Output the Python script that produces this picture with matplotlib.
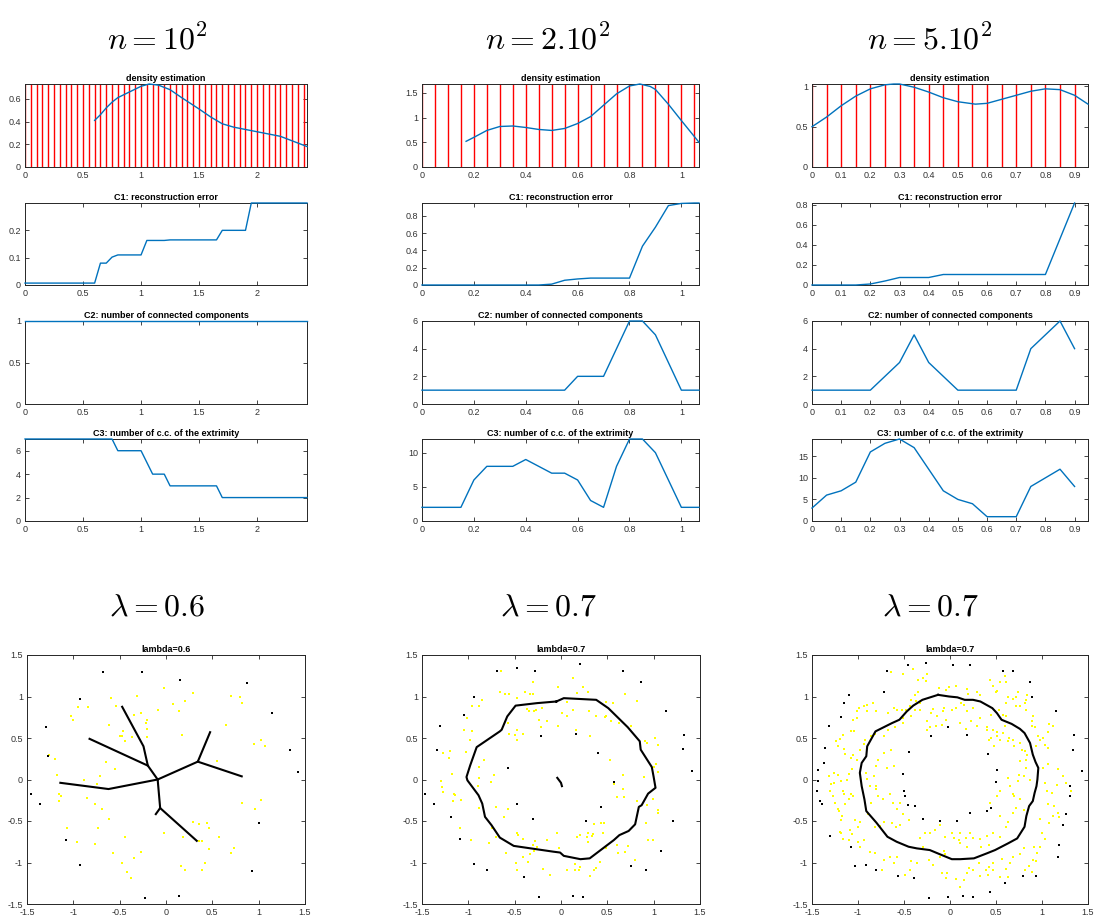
import numpy as np
import matplotlib
matplotlib.use('Agg')
import matplotlib.pyplot as plt
from matplotlib.ticker import FuncFormatter

plt.rcParams['font.family'] = ['Liberation Sans', 'DejaVu Sans']
plt.rcParams['mathtext.fontset'] = 'cm'
plt.rcParams['axes.unicode_minus'] = False

# ---------------- data: top columns (n=100, 200, 500) ----------------
xmax = [2.43, 1.068, 0.946]
lam = [np.round(np.arange(0, 2.41, 0.05), 2),
       np.round(np.arange(0, 1.051, 0.05), 2),
       np.round(np.arange(0, 0.91, 0.05), 2)]

dens_x1 = [0.6, 0.65, 0.7, 0.75, 0.8, 0.9, 1.0, 1.07, 1.15, 1.25, 1.35, 1.5, 1.6, 1.7, 1.8, 2.0, 2.2, 2.43]
dens_y1 = [0.41, 0.46, 0.52, 0.57, 0.61, 0.66, 0.71, 0.73, 0.72, 0.68, 0.61, 0.51, 0.44, 0.38, 0.35, 0.31, 0.27, 0.18]
dens_x2 = [0.17, 0.2, 0.25, 0.3, 0.35, 0.4, 0.45, 0.5, 0.55, 0.6, 0.65, 0.7, 0.75, 0.8, 0.84, 0.88, 0.9, 0.95, 1.0, 1.068]
dens_y2 = [0.52, 0.6, 0.74, 0.82, 0.83, 0.8, 0.76, 0.74, 0.78, 0.88, 1.02, 1.25, 1.48, 1.64, 1.68, 1.63, 1.57, 1.27, 0.94, 0.5]
dens_x3 = [0, 0.05, 0.1, 0.15, 0.2, 0.25, 0.28, 0.3, 0.35, 0.4, 0.45, 0.5, 0.56, 0.6, 0.65, 0.7, 0.75, 0.8, 0.85, 0.9, 0.946]
dens_y3 = [0.5, 0.62, 0.76, 0.88, 0.97, 1.02, 1.03, 1.03, 0.99, 0.93, 0.86, 0.81, 0.78, 0.79, 0.84, 0.89, 0.94, 0.97, 0.96, 0.89, 0.78]

c1_x1 = [0, 0.6, 0.65, 0.7, 0.75, 0.8, 1.0, 1.05, 1.2, 1.25, 1.65, 1.7, 1.9, 1.95, 2.43]
c1_y1 = [0.007, 0.007, 0.08, 0.08, 0.102, 0.11, 0.11, 0.163, 0.163, 0.165, 0.165, 0.2, 0.2, 0.3, 0.3]
c1_x2 = [0, 0.45, 0.5, 0.55, 0.6, 0.65, 0.8, 0.85, 0.9, 0.95, 1.0, 1.05, 1.068]
c1_y2 = [0, 0, 0.01, 0.055, 0.07, 0.08, 0.08, 0.45, 0.67, 0.92, 0.945, 0.95, 0.95]
c1_x3 = [0, 0.15, 0.2, 0.25, 0.3, 0.4, 0.45, 0.8, 0.9]
c1_y3 = [0, 0, 0.01, 0.04, 0.075, 0.075, 0.105, 0.105, 0.82]

c2_x1 = [0, 2.43]
c2_y1 = [1, 1]
c2_x2 = [0, 0.55, 0.6, 0.7, 0.75, 0.8, 0.85, 0.9, 0.95, 1.0, 1.068]
c2_y2 = [1, 1, 2, 2, 4, 6, 6, 5, 3, 1, 1]
c2_x3 = [0, 0.2, 0.25, 0.3, 0.35, 0.4, 0.45, 0.5, 0.7, 0.75, 0.8, 0.85, 0.9]
c2_y3 = [1, 1, 2, 3, 5, 3, 2, 1, 1, 4, 5, 6, 4]

c3_x1 = [0, 0.75, 0.8, 1.0, 1.1, 1.2, 1.25, 1.65, 1.7, 2.43]
c3_y1 = [7, 7, 6, 6, 4, 4, 3, 3, 2, 2]
c3_x2 = [0, 0.15, 0.2, 0.25, 0.35, 0.4, 0.45, 0.5, 0.55, 0.6, 0.65, 0.7, 0.75, 0.8, 0.85, 0.9, 0.95, 1.0, 1.068]
c3_y2 = [2, 2, 6, 8, 8, 9, 8, 7, 7, 6, 3, 2, 8, 12, 12, 10, 6, 2, 2]
c3_x3 = [0, 0.05, 0.1, 0.15, 0.2, 0.25, 0.3, 0.35, 0.4, 0.45, 0.5, 0.55, 0.6, 0.7, 0.75, 0.8, 0.85, 0.9]
c3_y3 = [3, 6, 7, 9, 16, 18, 19, 17, 12, 7, 5, 4, 1, 1, 8, 10, 12, 8]

# ---------------- data: bottom scatter panels ----------------
skel1 = [
    [(-0.09, 0.0), (-0.196, 0.167), (-0.243, 0.40), (-0.473, 0.876)],
    [(-0.196, 0.167), (-0.825, 0.49)],
    [(-0.09, 0.0), (-0.62, -0.115), (-1.14, -0.04)],
    [(-0.09, 0.0), (0.343, 0.215), (0.476, 0.57)],
    [(0.343, 0.215), (0.817, 0.038)],
    [(-0.09, 0.0), (-0.063, -0.344), (-0.11, -0.417)],
    [(-0.063, -0.344), (0.332, -0.739)],
]
yel1 = [(-0.02, 1.10), (-0.31, 1.01), (0.29, 1.04), (0.21, 0.95), (0.08, 0.91), (-0.09, 0.84), (0.14, 0.82),
        (-0.20, 0.72), (-0.34, 0.78), (-0.27, 0.80), (-0.22, 0.68), (-0.20, 0.61), (-0.21, 0.51), (-0.46, 0.59),
        (-0.50, 0.53), (-0.47, 0.52), (-0.44, 0.46), (-0.37, 0.51), (-0.54, 0.89), (-0.59, 0.98), (-1.03, 0.77),
        (-1.00, 0.72), (-0.95, 0.87), (-0.84, 0.87), (-0.62, 0.66), (0.17, 0.54), (0.80, 1.00), (0.70, 1.01),
        (0.82, 0.92), (0.65, 0.66), (1.02, 0.48), (0.95, 0.43), (1.07, 0.40), (0.55, 0.22), (-1.26, 0.30),
        (-1.20, 0.25), (-1.18, 0.06), (-0.88, 0.00), (-0.71, 0.04), (-0.75, -0.05), (-0.65, 0.21), (-0.55, 0.13),
        (-1.15, -0.18), (-1.13, -0.20), (-1.15, -0.26), (-0.85, -0.22), (-0.77, -0.30), (-0.69, -0.35),
        (-0.61, -0.47), (-0.73, -0.59), (-1.07, -0.59), (-0.96, -0.75), (-0.77, -0.78), (-0.57, -0.89),
        (-0.44, -0.69), (-0.47, -1.01), (-0.42, -1.12), (-0.38, -1.19), (-0.35, -0.95), (-0.27, -0.87),
        (-0.02, -0.65), (0.18, -0.69), (0.29, -0.51), (0.36, -0.54), (0.44, -0.53), (0.46, -0.59), (0.36, -0.74),
        (0.39, -0.74), (0.46, -0.84), (0.57, -0.69), (0.42, -1.00), (0.39, -1.09), (0.16, -1.04), (0.21, -1.09),
        (0.70, -0.89), (0.73, -0.82), (0.82, -0.28), (1.02, -0.25), (0.96, -0.35)]
blk1 = [(-0.68, 1.29), (-0.26, 1.29), (0.15, 1.20), (0.87, 1.16), (-0.93, 0.97), (-1.30, 0.63), (-1.27, 0.28),
        (1.14, 0.80), (1.34, 0.35), (1.42, 0.09), (-1.46, -0.17), (-1.36, -0.30), (-1.08, -0.73), (-0.93, -1.03),
        (1.00, -0.53), (0.93, -1.10), (-0.23, -1.43), (0.14, -1.40)]

skel2 = [
    [(-0.05, 0.94), (0.03, 0.98), (0.38, 0.96), (0.51, 0.86), (0.72, 0.63), (0.85, 0.46), (0.86, 0.36),
     (0.98, 0.15), (1.00, 0.03), (1.02, -0.10), (0.94, -0.17), (0.87, -0.31), (0.84, -0.33), (0.80, -0.54),
     (0.73, -0.62), (0.63, -0.67), (0.57, -0.73), (0.31, -0.95), (0.21, -0.96), (0.03, -0.92), (-0.01, -0.88),
     (-0.08, -0.87), (-0.51, -0.80), (-0.66, -0.70), (-0.75, -0.55), (-0.82, -0.45), (-0.85, -0.29),
     (-0.89, -0.19), (-0.95, -0.10), (-1.01, -0.01), (-1.02, 0.03), (-0.98, 0.17), (-0.91, 0.39),
     (-0.66, 0.58), (-0.64, 0.60), (-0.58, 0.76), (-0.49, 0.89), (-0.26, 0.92), (-0.05, 0.94)],
    [(-0.04, 0.02), (-0.02, -0.01), (0.0, -0.04), (0.01, -0.08)],
]
yel2 = [(-0.65, 1.31), (0.13, 1.22), (0.24, 1.12), (0.29, 1.06), (0.17, 1.04), (-0.03, 1.12), (-0.30, 1.17),
        (0.49, 0.93), (0.56, 0.92), (0.69, 1.03), (0.82, 0.94), (-0.66, 1.05), (-0.60, 1.03), (-0.56, 1.03),
        (-0.48, 0.98), (-0.39, 1.05), (-0.33, 1.03), (-0.30, 1.03), (-0.85, 0.96), (-0.88, 0.89), (-0.96, 0.88),
        (-1.01, 0.74), (-1.05, 0.60), (-0.96, 0.59), (-0.98, 0.48), (-1.03, 0.33), (-1.20, 0.34), (-1.27, 0.32),
        (-1.21, 0.26), (-1.30, -0.02), (-1.28, -0.09), (-1.27, -0.15), (-1.18, 0.07), (-1.16, -0.17),
        (-1.14, -0.19), (-1.17, -0.26), (-1.08, -0.25), (-1.09, -0.59), (-0.97, -0.73), (-0.78, -0.76),
        (-0.70, -0.69), (-0.59, -0.88), (-0.49, -1.00), (-0.47, -1.09), (-0.41, -0.93), (-0.33, -0.90),
        (-0.36, -0.99), (-0.29, -0.86), (-0.19, -1.08), (-0.12, -1.15), (-0.26, -0.81), (-0.15, -0.73),
        (-0.04, -0.65), (-0.02, -0.83), (0.06, -1.09), (0.15, -1.02), (0.15, -1.09), (0.19, -1.09), (0.21, -1.05),
        (0.31, -1.16), (0.38, -1.07), (0.36, -1.09), (0.42, -0.99), (0.49, -0.82), (0.60, -0.79), (0.62, -0.88),
        (0.69, -0.87), (0.72, -0.80), (0.80, -0.97), (0.94, -0.73), (0.99, -0.73), (0.92, -0.52), (1.05, -0.37),
        (1.05, -0.40), (0.99, -0.23), (0.93, -0.31), (0.82, -0.26), (0.68, -0.21), (0.67, -0.11), (0.90, 0.03),
        (1.05, 0.09), (1.02, 0.19), (1.00, 0.15), (0.91, 0.46), (0.93, 0.44), (1.05, 0.42), (1.01, 0.50),
        (0.75, 0.64), (0.63, 0.68), (0.49, 0.76), (0.67, 0.05), (0.57, -0.05), (0.60, -0.21), (0.46, -0.53),
        (0.43, -0.52), (0.36, -0.54), (0.35, -0.66), (0.33, -0.68), (0.45, -0.65), (0.29, -0.65), (0.28, -0.69),
        (0.21, -0.67), (0.17, -0.69), (0.29, -0.75), (-0.27, 0.84), (-0.37, 0.85), (-0.34, 0.83), (-0.29, 0.82),
        (-0.21, 0.86), (-0.15, 0.71), (-0.24, 0.72), (-0.22, 0.63), (-0.57, 0.68), (-0.47, 0.60), (-0.41, 0.55),
        (-0.47, 0.48), (-0.50, 0.54), (-0.56, 0.55), (-0.03, 0.64), (0.01, 0.80), (0.06, 0.76), (0.13, 0.84),
        (0.16, 0.60), (0.31, 0.52), (0.53, 0.24), (0.54, 0.70), (0.48, 0.75), (0.38, 0.77), (0.30, 0.83),
        (0.06, 0.93), (-0.83, 0.23), (-0.88, 0.15), (-0.89, 0.02), (-0.72, 0.05), (-0.76, -0.03), (-0.90, -0.08),
        (-0.88, -0.34), (-0.70, -0.33), (-0.62, -0.45), (-0.57, -0.35), (-0.48, -0.65), (-0.46, -0.67),
        (-0.41, -0.72), (-0.30, -0.79), (-0.28, -0.74), (-0.75, -0.59)]
blk2 = [(-0.69, 1.31), (-0.48, 1.34), (-0.28, 1.31), (0.21, 1.39), (0.67, 1.31), (0.86, 1.18), (1.13, 0.83),
        (-0.94, 0.99), (-1.05, 0.78), (-1.31, 0.65), (-1.34, 0.36), (-0.57, 0.14), (-0.22, 0.52), (0.16, 0.55),
        (0.40, 0.32), (0.57, -0.03), (0.43, -0.33), (1.33, 0.54), (1.32, 0.37), (1.41, 0.10), (1.21, -0.50),
        (1.08, -0.86), (0.92, -1.09), (0.76, -1.04), (0.27, -0.50), (-0.30, -0.47), (-0.47, -0.30),
        (-1.19, -0.45), (-1.37, -0.30), (-1.47, -0.17), (-1.09, -0.72), (-0.94, -1.02), (-0.80, -1.09),
        (-0.40, -1.18), (-0.24, -1.42), (0.13, -1.40), (0.24, -1.41)]

skel3 = [
    [(-0.13, 1.02), (-0.01, 1.00), (0.08, 0.99), (0.16, 0.96), (0.25, 0.96), (0.33, 0.94), (0.46, 0.86),
     (0.51, 0.80), (0.56, 0.72), (0.67, 0.67), (0.76, 0.61), (0.81, 0.56), (0.87, 0.44), (0.90, 0.30),
     (0.93, 0.21), (0.96, 0.14), (0.95, 0.00), (0.94, -0.08), (0.92, -0.16), (0.90, -0.26), (0.86, -0.32),
     (0.83, -0.44), (0.81, -0.57), (0.73, -0.71), (0.63, -0.77), (0.49, -0.85), (0.40, -0.89), (0.26, -0.95),
     (0.11, -0.96), (0.02, -0.96), (-0.09, -0.91), (-0.22, -0.85), (-0.36, -0.83), (-0.45, -0.81),
     (-0.58, -0.75), (-0.68, -0.69), (-0.80, -0.52), (-0.91, -0.38), (-0.93, -0.24), (-0.96, -0.08),
     (-0.98, 0.08), (-0.96, 0.20), (-0.91, 0.28), (-0.90, 0.40), (-0.85, 0.50), (-0.81, 0.58), (-0.72, 0.63),
     (-0.63, 0.68), (-0.55, 0.72), (-0.47, 0.82), (-0.40, 0.89), (-0.30, 0.96), (-0.13, 1.02)],
]
yel3 = [(-0.64, 1.30), (-0.51, 1.27), (-0.40, 1.33), (-0.29, 1.22), (-0.25, 1.27), (-0.35, 1.20), (-0.26, 1.19),
        (-0.12, 1.10), (-0.04, 1.08), (-0.01, 1.11), (0.07, 1.13), (0.18, 1.09), (0.20, 1.03), (0.29, 1.05),
        (0.33, 1.02), (0.43, 1.20), (0.47, 1.13), (0.51, 1.07), (0.50, 1.05), (0.54, 1.17), (0.60, 1.25),
        (0.61, 1.17), (0.74, 1.05), (0.72, 1.00), (0.83, 0.96), (0.81, 0.92), (0.84, 1.02), (0.72, 0.88),
        (0.76, 0.88), (0.63, 1.00), (0.69, 0.97), (0.61, 0.92), (0.12, 0.92), (0.15, 0.90), (0.25, 0.86),
        (0.18, 0.82), (0.07, 0.86), (0.02, 0.84), (-0.06, 0.86), (-0.08, 0.82), (-0.18, 0.85), (-0.21, 0.80),
        (-0.14, 0.77), (-0.25, 0.70), (-0.22, 0.63), (-0.15, 0.65), (-0.09, 0.66), (-0.04, 0.72), (-0.25, 0.60),
        (-0.38, 1.02), (-0.35, 1.05), (-0.37, 0.94), (-0.33, 0.92), (-0.42, 0.96), (-0.44, 0.88), (-0.48, 0.84),
        (-0.52, 0.84), (-0.58, 0.84), (-0.61, 0.86), (-0.67, 0.80), (-0.80, 0.82), (-0.84, 0.92), (-0.90, 0.82),
        (-0.90, 0.90), (-0.94, 0.88), (-0.99, 0.86), (-1.01, 0.82), (-1.01, 0.74), (-1.05, 0.72), (-1.04, 0.58),
        (-1.08, 0.58), (-1.16, 0.54), (-1.20, 0.49), (-1.24, 0.46), (-1.22, 0.40), (-1.15, 0.37), (-1.14, 0.31),
        (-1.05, 0.30), (-0.98, 0.36), (-0.94, 0.43), (-0.92, 0.48), (-0.86, 0.53), (-0.81, 0.55), (-0.72, 0.52),
        (-0.67, 0.60), (-0.60, 0.63), (-0.51, 0.68), (-0.51, 0.74), (-0.42, 0.76), (-0.38, 0.84), (-0.33, 0.84),
        (0.29, 0.64), (0.40, 0.63), (0.45, 0.78), (0.53, 0.84), (0.58, 0.78), (0.61, 0.76), (0.60, 0.64),
        (0.58, 0.56), (0.64, 0.50), (0.63, 0.46), (0.69, 0.48), (0.70, 0.40), (0.76, 0.44), (0.78, 0.36),
        (0.81, 0.34), (0.84, 0.30), (0.94, 0.40), (0.98, 0.47), (1.01, 0.50), (1.03, 0.41), (1.06, 0.38),
        (1.08, 0.67), (1.12, 0.64), (1.07, 0.57), (0.92, 0.63), (0.89, 0.65), (0.96, 0.52), (0.90, 0.76),
        (0.89, 0.71), (0.83, 0.84), (0.51, 0.57), (0.51, 0.52), (0.54, 0.48), (0.45, 0.50), (0.48, 0.40),
        (0.83, 0.24), (0.76, 0.22), (0.75, 0.06), (0.83, 0.14), (0.80, 0.04), (0.87, 0.00), (1.01, 0.14),
        (1.07, 0.19), (1.17, 0.13), (1.23, 0.04), (1.26, -0.04), (1.32, -0.14), (1.30, -0.20), (1.16, -0.07),
        (1.11, -0.16), (1.05, -0.14), (1.03, -0.04), (1.07, -0.29), (1.13, -0.32), (1.17, -0.40), (1.19, -0.45),
        (1.12, -0.44), (1.08, -0.53), (0.98, -0.48), (1.00, -0.64), (1.03, -0.72), (0.98, -0.81), (0.95, -0.89),
        (0.94, -0.98), (0.90, -0.97), (0.86, -1.04), (0.81, -1.09), (0.89, -1.11), (0.91, -0.81), (0.80, -0.82),
        (0.76, -0.90), (0.69, -0.93), (0.65, -1.00), (0.61, -1.08), (0.63, -1.17), (0.54, -1.18), (0.57, -0.96),
        (0.47, -1.00), (0.47, -1.09), (0.42, -1.05), (0.41, -1.15), (0.39, -1.09), (0.33, -1.16), (0.31, -1.01),
        (0.25, -1.09), (0.21, -1.07), (0.18, -1.13), (0.11, -1.29), (0.15, -1.21), (0.07, -1.20), (-0.03, -1.13),
        (-0.04, -1.19), (-0.09, -1.13), (-0.05, -0.90), (-0.11, -0.93), (-0.18, -1.03), (-0.23, -0.97),
        (-0.36, -1.00), (-0.42, -0.98), (-0.44, -1.09), (-0.49, -1.15), (-0.61, -1.00), (-0.58, -0.93),
        (-0.65, -0.93), (-0.72, -0.97), (-0.74, -1.09), (-0.81, -0.89), (-0.87, -0.87), (-0.93, -0.73),
        (-1.00, -0.75), (-0.98, -0.81), (-1.07, -0.66), (-1.09, -0.61), (-1.10, -0.73), (-1.16, -0.72),
        (-1.19, -0.65), (-1.20, -0.63), (-1.19, -0.49), (-1.17, -0.44), (-1.21, -0.38), (-1.22, -0.36),
        (-1.25, -0.28), (-1.14, -0.30), (-1.10, -0.24), (-1.05, -0.20), (-1.08, -0.18), (-1.15, -0.18),
        (-1.16, -0.14), (-1.27, -0.20), (-1.30, -0.14), (-1.29, -0.05), (-1.32, 0.04), (-1.26, 0.08),
        (-1.22, 0.05), (-1.26, -0.04), (-1.19, -0.02), (-1.12, -0.01), (-1.10, 0.07), (-1.06, 0.13),
        (-1.01, 0.24), (-1.08, 0.26), (-0.91, 0.08), (-0.90, 0.01), (-0.87, -0.08), (-0.80, -0.08),
        (-0.80, -0.12), (-0.78, -0.20), (-0.73, -0.24), (-0.65, -0.18), (-0.62, -0.28), (-0.54, -0.28),
        (-0.58, -0.36), (-0.51, -0.41), (-0.45, -0.49), (-0.54, -0.55), (-0.59, -0.57), (-0.63, -0.52),
        (-0.72, -0.51), (-0.76, -0.56), (-0.81, -0.57), (-0.89, -0.42), (-0.98, -0.51), (-1.00, -0.57),
        (-1.03, -0.49), (-0.86, -0.28), (-0.80, 0.16), (-0.78, 0.24), (-0.72, 0.32), (-0.64, 0.36),
        (-0.69, 0.14), (-0.61, 0.16), (-0.83, 0.04), (0.11, -0.77), (0.10, -0.73), (0.17, -0.71), (0.22, -0.65),
        (0.25, -0.71), (0.33, -0.72), (0.40, -0.68), (0.47, -0.65), (0.42, -0.79), (0.34, -0.81), (0.54, -0.69),
        (0.61, -0.57), (0.63, -0.51), (0.69, -0.40), (0.72, -0.34), (0.80, -0.37), (0.76, -0.24), (0.70, -0.20),
        (0.69, -0.17), (0.74, -0.02), (0.65, -0.08), (0.63, 0.02), (0.54, -0.14), (0.51, -0.20), (0.43, -0.28),
        (0.54, -0.44), (-0.11, -0.55), (-0.16, -0.61), (-0.22, -0.65), (-0.27, -0.65), (-0.33, -0.71),
        (-0.29, -0.81), (-0.05, -0.69), (0.02, -0.64), (0.04, -0.71), (0.11, -0.65), (0.18, -0.81), (-0.07, -0.86),
        (0.17, 0.61), (0.11, 0.68), (0.23, 0.70), (0.33, 0.74), (0.40, 0.60), (0.42, 0.48), (0.47, 0.60)]
blk3 = [(-0.46, 1.38), (-0.26, 1.40), (0.03, 1.38), (0.22, 1.38), (-0.68, 1.31), (0.58, 1.31), (0.69, 1.31),
        (0.87, 1.17), (0.89, 1.00), (1.15, 0.82), (-0.72, 1.05), (-1.10, 1.02), (-1.15, 0.92), (-1.18, 0.75),
        (-1.31, 0.65), (-1.36, 0.38), (-0.45, 0.33), (-0.21, 0.52), (-0.02, 0.63), (0.18, 0.54), (0.41, 0.31),
        (0.51, 0.12), (0.50, -0.03), (0.40, -0.38), (0.45, -0.34), (0.08, -0.50), (-0.11, -0.50), (-0.29, -0.47),
        (-0.49, -0.20), (-0.50, -0.14), (-0.46, -0.31), (-0.51, 0.07), (1.34, 0.36), (1.35, 0.54), (1.44, 0.10),
        (1.30, -0.08), (1.30, -0.20), (1.26, -0.42), (1.23, -0.55), (1.19, -0.79), (1.17, -0.93), (0.94, -1.16),
        (0.79, -1.16), (0.60, -1.25), (0.44, -1.36), (0.25, -1.42), (0.14, -1.40), (-0.02, -1.42), (-0.23, -1.43),
        (-0.39, -1.19), (-0.57, -1.16), (-0.80, -1.09), (-0.91, -1.03), (-1.03, -1.04), (-1.08, -0.81),
        (-1.30, -0.68), (-1.37, 0.20), (-1.43, 0.12), (-1.43, -0.02), (-1.45, -0.14), (-1.41, -0.26),
        (-1.39, -0.30), (0.22, -0.40), (-0.38, -0.32)]

# ---------------- figure ----------------
W, H = 1096, 923
fig = plt.figure(figsize=(W / 100, H / 100), dpi=100)
blue = '#0072BD'
fmt = FuncFormatter(lambda v, p: f'{v:g}')


def add_box(l, t, r, b):
    return fig.add_axes([l / W, 1 - b / H, (r - l) / W, (b - t) / H])


def matlab(ax, title, xl, yl, xt, yt):
    ax.set_xlim(*xl)
    ax.set_ylim(*yl)
    ax.set_xticks(xt)
    ax.set_yticks(yt)
    ax.xaxis.set_major_formatter(fmt)
    ax.yaxis.set_major_formatter(fmt)
    ax.tick_params(direction='in', top=True, right=True, length=3, width=0.6,
                   labelsize=6.5, color='#262626', labelcolor='#333333', pad=3)
    for s in ax.spines.values():
        s.set_linewidth(0.7)
        s.set_color('#262626')
    ax.set_title(title, fontsize=6.5, fontweight='bold', pad=2)


def curve(ax, xy):
    ax.plot(*xy, color=blue, lw=1.0, clip_on=False, zorder=3)


cols = [(25, 307), (422, 699), (812, 1088)]
rows = [(84, 167), (203, 285), (321, 404), (439, 521)]
xticks = [[0, 0.5, 1, 1.5, 2], [0, 0.2, 0.4, 0.6, 0.8, 1], list(np.round(np.arange(0, 0.91, 0.1), 1))]

dens = [(dens_x1, dens_y1), (dens_x2, dens_y2), (dens_x3, dens_y3)]
c1 = [(c1_x1, c1_y1), (c1_x2, c1_y2), (c1_x3, c1_y3)]
c2 = [(c2_x1, c2_y1), (c2_x2, c2_y2), (c2_x3, c2_y3)]
c3 = [(c3_x1, c3_y1), (c3_x2, c3_y2), (c3_x3, c3_y3)]

dens_top = [0.73, 1.68, 1.03]
dens_yt = [[0, 0.2, 0.4, 0.6], [0, 0.5, 1, 1.5], [0, 0.5, 1]]
c1_top = [0.3, 0.95, 0.82]
c1_yt = [[0, 0.1, 0.2], [0, 0.2, 0.4, 0.6, 0.8], [0, 0.2, 0.4, 0.6, 0.8]]
c2_top = [1, 6, 6]
c2_yt = [[0, 0.5, 1], [0, 2, 4, 6], [0, 2, 4, 6]]
c3_top = [7, 12, 19]
c3_yt = [[0, 2, 4, 6], [0, 5, 10], [0, 5, 10, 15]]

for j, (l, r) in enumerate(cols):
    xl = (0, xmax[j])
    ax = add_box(l, rows[0][0], r, rows[0][1])
    ax.vlines(lam[j], 0, dens_top[j], colors='red', lw=1.0)
    curve(ax, dens[j])
    matlab(ax, 'density estimation', xl, (0, dens_top[j]), xticks[j], dens_yt[j])

    ax = add_box(l, rows[1][0], r, rows[1][1])
    curve(ax, c1[j])
    matlab(ax, 'C1: reconstruction error', xl, (0, c1_top[j]), xticks[j], c1_yt[j])

    ax = add_box(l, rows[2][0], r, rows[2][1])
    curve(ax, c2[j])
    matlab(ax, 'C2: number of connected components', xl, (0, c2_top[j]), xticks[j], c2_yt[j])

    ax = add_box(l, rows[3][0], r, rows[3][1])
    curve(ax, c3[j])
    matlab(ax, 'C3: number of c.c. of the extrimity', xl, (0, c3_top[j]), xticks[j], c3_yt[j])

# bottom scatter panels
bcols = [(27, 305), (422, 700), (812, 1088)]
scat = [(skel1, yel1, blk1, 'lambda=0.6'), (skel2, yel2, blk2, 'lambda=0.7'), (skel3, yel3, blk3, 'lambda=0.7')]
st = [-1.5, -1, -0.5, 0, 0.5, 1, 1.5]
for j, (l, r) in enumerate(bcols):
    ax = add_box(l, 655, r, 904)
    skel, yel, blk, ttl = scat[j]
    yel = np.array(yel)
    blk = np.array(blk)
    ax.plot(yel[:, 0], yel[:, 1], 's', color=(1, 1, 0), ms=1.8, mew=0)
    ax.plot(blk[:, 0], blk[:, 1], 's', color='k', ms=1.7, mew=0)
    for seg in skel:
        seg = np.array(seg)
        ax.plot(seg[:, 0], seg[:, 1], color='k', lw=1.5)
    matlab(ax, ttl, (-1.5, 1.5), (-1.5, 1.5), st, st)

# big headings
for xc, txt in zip([157, 548, 930], [r'$n=10^2$', r'$n=2.10^2$', r'$n=5.10^2$']):
    fig.text(xc / W, 1 - 40 / H, txt, fontsize=23, ha='center', va='center')
for xc, txt in zip([157, 548, 930], [r'$\lambda=0.6$', r'$\lambda=0.7$', r'$\lambda=0.7$']):
    fig.text(xc / W, 1 - 608 / H, txt, fontsize=23, ha='center', va='center')

fig.savefig('out.png', dpi=100)
